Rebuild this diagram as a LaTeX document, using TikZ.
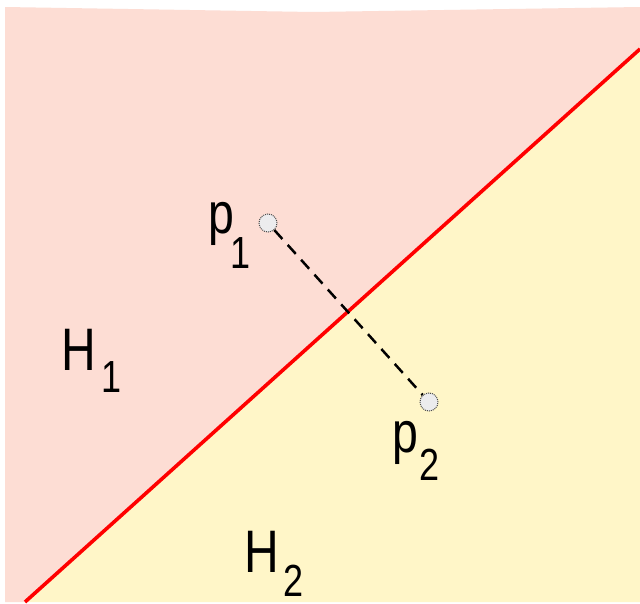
\documentclass[tikz,border=0pt]{standalone}
\usepackage{fontspec}
\setmainfont{Liberation Sans}
\definecolor{halfpink}{RGB}{253,221,212}
\definecolor{halfyellow}{RGB}{255,246,200}
\definecolor{ptfill}{RGB}{236,236,238}
\begin{document}
\begin{tikzpicture}[x=1pt,y=-1pt,
  bigglyph/.style={inner sep=0pt,anchor=base,font=\fontsize{60}{66}\selectfont,xscale=0.8,transform shape},
  subglyph/.style={inner sep=0pt,anchor=base,font=\fontsize{45}{50}\selectfont,xscale=0.8,transform shape},
  ptdot/.style={circle,minimum size=18pt,inner sep=0pt,fill=ptfill,draw=gray!60!black,densely dotted,line width=1pt},
  splitline/.style={red,line width=3.6pt},
  seg/.style={black,line width=2.5pt,dash pattern=on 12pt off 8pt}]
\useasboundingbox (0,0) rectangle (640,603);
\fill[white] (0,0) rectangle (640,603);
\coordinate (tl) at (5,7);
\coordinate (tm) at (313,12);
\coordinate (tr) at (640,7);
\coordinate (lt) at (640,49);
\coordinate (lb) at (25,602);
\coordinate (bl) at (5,602);
\coordinate (br) at (640,602);
\fill[halfpink] (tl) -- (tm) -- (tr) -- (lt) -- (lb) -- (bl) -- cycle;
\fill[halfyellow] (lt) -- (br) -- (lb) -- cycle;
\draw[splitline] (lb) -- (lt);
\node[ptdot] (p1) at (268,223) {};
\node[ptdot] (p2) at (429,402) {};
\draw[seg] (p1) -- (p2);
% labels
\node[bigglyph] (h1b) at (79,370) {H};
\node[subglyph] (h1s) at (112,392) {1};
\node[bigglyph] (h2b) at (262,572) {H};
\node[subglyph] (h2s) at (294,596) {2};
\node[bigglyph,font=\fontsize{58}{64}\selectfont] (p1b) at (221,233) {p};
\node[subglyph] (p1s) at (241,268) {1};
\node[bigglyph,font=\fontsize{58}{64}\selectfont] (p2b) at (405,452) {p};
\node[subglyph] (p2s) at (430,480) {2};
\end{tikzpicture}
\end{document}
